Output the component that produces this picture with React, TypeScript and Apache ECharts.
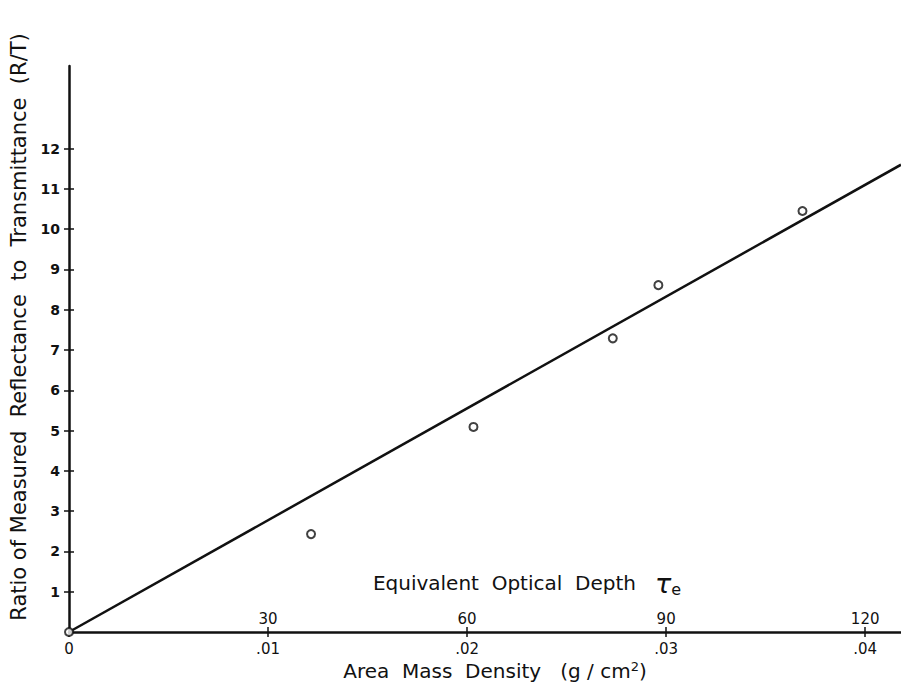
import React, { useEffect, useRef } from "react";
import * as echarts from "echarts";

// Measured points: area mass density (g/cm²) vs. ratio R/T
const massDensity = [0, 0.01216, 0.02032, 0.02732, 0.02961, 0.03685];
const ratioRT = [0, 2.43, 5.09, 7.29, 8.61, 10.45];

// Fitted straight line through the origin
const fitMass = [0, 0.0418];
const fitRatio = [0, 11.6];

// Axis ticks and labels
const massTicks = [0, 0.01, 0.02, 0.03, 0.04];
const massTickLabels = ["0", ".01", ".02", ".03", ".04"];
const depthTicks = [0.01, 0.02, 0.03, 0.04];
const depthTickLabels = ["30", "60", "90", "120"];
const ratioTicks = [1, 2, 3, 4, 5, 6, 7, 8, 9, 10, 11, 12];

const INK = "#111";
const FONT = "DejaVu Sans";

export default function App() {
  const ref = useRef<HTMLDivElement>(null);

  useEffect(() => {
    if (!ref.current) return;
    const chart = echarts.init(ref.current, null, { renderer: "svg" });

    const massLabel = (v: number) => {
      const i = massTicks.findIndex((t) => Math.abs(t - v) < 1e-9);
      return i >= 0 ? massTickLabels[i] : "";
    };
    const depthLabel = (v: number) => {
      const i = depthTicks.findIndex((t) => Math.abs(t - v) < 1e-9);
      return i >= 0 ? depthTickLabels[i] : "";
    };

    chart.setOption({
      animation: false,
      backgroundColor: "#ffffff",
      grid: { left: 69, right: 0, top: 66, bottom: 64, containLabel: false },
      xAxis: [
        {
          type: "value",
          min: 0,
          max: 0.0418,
          position: "bottom",
          axisLine: { show: true, onZero: false, lineStyle: { color: INK, width: 2.5 } },
          axisTick: { show: true, length: 5, customValues: massTicks, lineStyle: { color: INK, width: 1.5 } },
          axisLabel: {
            customValues: massTicks,
            formatter: massLabel,
            margin: 9,
            fontSize: 15,
            fontFamily: FONT,
            color: INK,
          },
          splitLine: { show: false },
        },
        {
          type: "value",
          min: 0,
          max: 0.0418,
          position: "bottom",
          axisLine: { show: false, onZero: false },
          axisTick: { show: true, inside: true, length: 5, customValues: depthTicks, lineStyle: { color: INK, width: 1.5 } },
          axisLabel: {
            inside: true,
            customValues: depthTicks,
            formatter: depthLabel,
            margin: 6,
            fontSize: 15,
            fontFamily: FONT,
            color: INK,
          },
          splitLine: { show: false },
        },
      ],
      yAxis: [
        {
          type: "value",
          min: 0,
          max: 14.05,
          position: "left",
          axisLine: { show: true, onZero: false, lineStyle: { color: INK, width: 2.5 } },
          axisTick: { show: true, length: 5, customValues: ratioTicks, lineStyle: { color: INK, width: 1.5 } },
          axisLabel: {
            customValues: ratioTicks,
            margin: 9,
            fontSize: 14,
            fontWeight: "bold",
            fontFamily: FONT,
            color: INK,
          },
          splitLine: { show: false },
        },
        {
          type: "value",
          min: 0,
          max: 14.05,
          position: "left",
          axisLine: { show: false, onZero: false },
          axisTick: { show: true, inside: true, length: 5, customValues: ratioTicks, lineStyle: { color: INK, width: 1.5 } },
          axisLabel: { show: false },
          splitLine: { show: false },
        },
      ],
      series: [
        {
          type: "line",
          xAxisIndex: 0,
          yAxisIndex: 0,
          data: fitMass.map((x, i) => [x, fitRatio[i]]),
          showSymbol: false,
          lineStyle: { color: INK, width: 2.5 },
          z: 2,
        },
        {
          type: "scatter",
          xAxisIndex: 0,
          yAxisIndex: 0,
          data: massDensity.map((x, i) => [x, ratioRT[i]]),
          symbol: "circle",
          symbolSize: 8,
          clip: false,
          itemStyle: { color: "#ffffff", borderColor: INK, borderWidth: 2 },
          z: 3,
        },
      ],
      graphic: [
        {
          type: "text",
          x: 19,
          y: 327,
          rotation: Math.PI / 2,
          style: {
            text: "Ratio of Measured  Reflectance  to  Transmittance  (R/T)",
            fontSize: 21,
            fontFamily: FONT,
            fill: INK,
            align: "center",
            verticalAlign: "middle",
          },
        },
        {
          type: "text",
          x: 495,
          y: 671,
          style: {
            text: "Area  Mass  Density   (g / cm{sup|2})",
            fontSize: 20,
            fontFamily: FONT,
            fill: INK,
            align: "center",
            verticalAlign: "middle",
            rich: {
              sup: { fontSize: 13, verticalAlign: "top", padding: [0, 0, 9, 0], fill: INK, fontFamily: FONT },
            },
          },
        },
        {
          type: "text",
          x: 527,
          y: 583,
          style: {
            text: "Equivalent  Optical  Depth   {tau|τ}{sub|e}",
            fontSize: 20,
            fontFamily: FONT,
            fill: INK,
            align: "center",
            verticalAlign: "middle",
            rich: {
              tau: { fontSize: 27, fontStyle: "italic", fontFamily: FONT, fill: INK },
              sub: { fontSize: 16, fontFamily: FONT, fill: INK, padding: [12, 0, 0, 0] },
            },
          },
        },
      ],
    });

    return () => chart.dispose();
  }, []);

  return (
    <div
      ref={ref}
      style={{ position: "fixed", left: 0, top: 0, width: 901, height: 696, background: "#fff" }}
    />
  );
}
